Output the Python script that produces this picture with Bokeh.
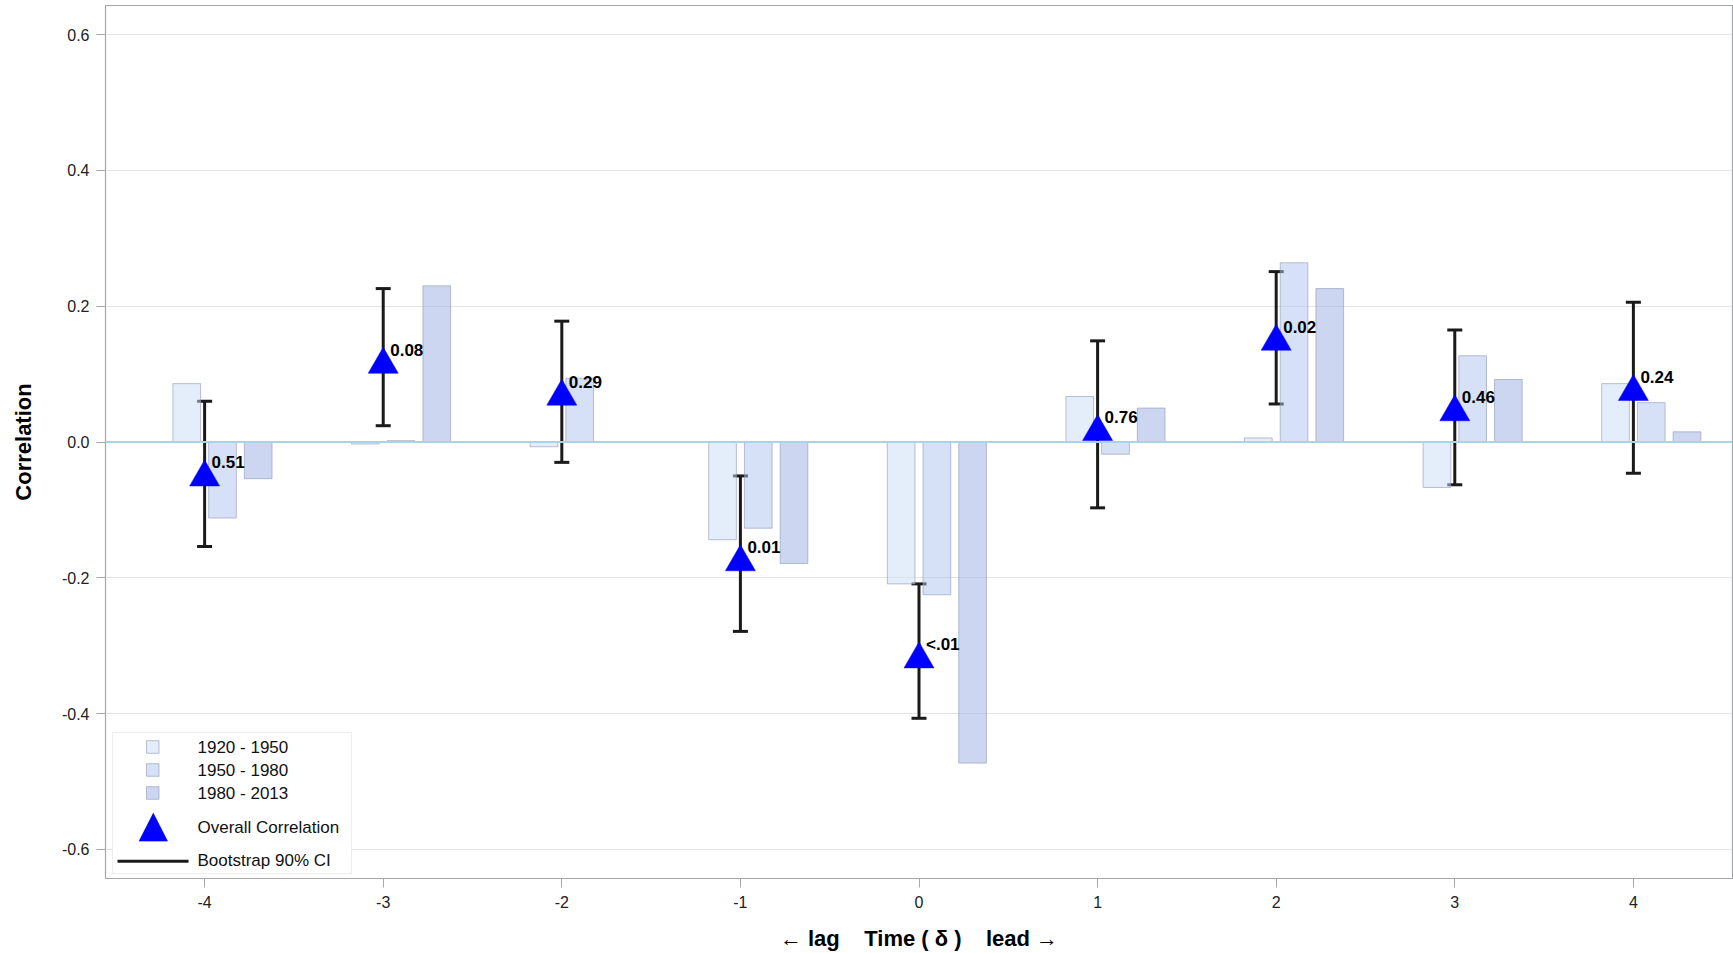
from bokeh.plotting import figure
from bokeh.models import (ColumnDataSource, Whisker, TeeHead, Span, FixedTicker,
                          PrintfTickFormatter, BoxAnnotation, PolyAnnotation, Label, Range1d)
from bokeh.transform import dodge
from bokeh.core.properties import value
from bokeh.embed import file_html
from bokeh.resources import INLINE

# ---- data -------------------------------------------------------------
lags = [-4, -3, -2, -1, 0, 1, 2, 3, 4]
period_labels = ["1920 - 1950", "1950 - 1980", "1980 - 2013"]
corr_1920_1950 = [0.086, -0.003, -0.007, -0.144, -0.209, 0.067, 0.006, -0.067, 0.086]
corr_1950_1980 = [-0.112, 0.002, 0.094, -0.127, -0.225, -0.018, 0.264, 0.127, 0.058]
corr_1980_2013 = [-0.054, 0.230, 0.000, -0.179, -0.473, 0.050, 0.226, 0.092, 0.015]
overall_corr = [-0.052, 0.114, 0.067, -0.177, -0.320, 0.015, 0.148, 0.044, 0.074]
ci_lower = [-0.154, 0.024, -0.030, -0.279, -0.407, -0.097, 0.056, -0.063, -0.046]
ci_upper = [0.060, 0.226, 0.178, -0.050, -0.209, 0.149, 0.251, 0.165, 0.206]
p_labels = ["0.51", "0.08", "0.29", "0.01", "<.01", "0.76", "0.02", "0.46", "0.24"]
y_ticks = [-0.6, -0.4, -0.2, 0.0, 0.2, 0.4, 0.6]
x_ticks = lags

# ---- styling ----------------------------------------------------------
FONT = "Liberation Sans"
BAR_FILLS = ["#C9DBF5", "#ADC1ED", "#99ADE3"]
BAR_OFFSETS = [-0.1, 0.1, 0.3]
BAR_WIDTH = 0.155
BAR_LINE = "#8F9AB5"
FRAME_GRAY = "#A3A7AC"

src = ColumnDataSource(dict(
    lag=lags, p1=corr_1920_1950, p2=corr_1950_1980, p3=corr_1980_2013,
    overall=overall_corr, lower=ci_lower, upper=ci_upper, plabel=p_labels,
))

p = figure(width=1733, height=953, output_backend="svg", toolbar_location=None,
           x_range=Range1d(-4.555, 4.555), y_range=Range1d(-0.643, 0.643),
           min_border_left=105, min_border_right=1, min_border_top=5,
           min_border_bottom=74)

p.background_fill_color = "white"
p.border_fill_color = "white"
p.outline_line_color = FRAME_GRAY
p.outline_line_width = 1.2

# axes
for ax in (p.xaxis[0], p.yaxis[0]):
    ax.axis_line_color = None
    ax.major_tick_line_color = FRAME_GRAY
    ax.major_tick_out = 9
    ax.major_tick_in = 0
    ax.minor_tick_line_color = None
    ax.major_label_text_font = FONT
    ax.major_label_text_font_size = "16px"
    ax.major_label_text_color = "#222222"
    ax.axis_label_text_font = FONT
    ax.axis_label_text_font_style = "bold"
    ax.axis_label_text_font_size = "22px"
    ax.axis_label_text_color = "black"

p.xaxis.ticker = FixedTicker(ticks=x_ticks)
p.xaxis.formatter = PrintfTickFormatter(format="%d")
p.yaxis.ticker = FixedTicker(ticks=y_ticks)
p.yaxis.formatter = PrintfTickFormatter(format="%.1f")
p.xaxis.major_label_standoff = 8
p.yaxis.major_label_standoff = 7
p.yaxis.axis_label = "Correlation"
p.yaxis.axis_label_standoff = 23
p.xaxis.axis_label = "\u2190 lag\u00a0\u00a0\u00a0 Time ( \u03b4 )\u00a0\u00a0\u00a0 lead \u2192"
p.xaxis.axis_label_standoff = 15

p.xgrid.grid_line_color = None
p.ygrid.ticker = FixedTicker(ticks=y_ticks)
p.ygrid.grid_line_color = "#E4E4E4"
p.ygrid.grid_line_width = 1

# grouped bars per period
for col, fill, off in zip(["p1", "p2", "p3"], BAR_FILLS, BAR_OFFSETS):
    p.vbar(x=dodge("lag", off), top=col, bottom=0, width=BAR_WIDTH, source=src,
           fill_color=fill, fill_alpha=0.5, line_color=BAR_LINE, line_alpha=0.6,
           line_width=1)

# zero reference line
p.add_layout(Span(location=0, dimension="width", line_color="#A6D6E6", line_width=2))

# overall correlation markers
p.scatter(x="lag", y="overall", source=src, marker="triangle", size=30,
          fill_color="#0000FF", line_color="#0000FF", line_width=0.5)

# bootstrap confidence intervals
p.add_layout(Whisker(base="lag", lower="lower", upper="upper", source=src,
                     line_color="#1A1A1A", line_width=3,
                     upper_head=TeeHead(size=15, line_width=3, line_color="#1A1A1A"),
                     lower_head=TeeHead(size=15, line_width=3, line_color="#1A1A1A")))

# p-value labels
p.text(x="lag", y="overall", text="plabel", source=src, x_offset=7, y_offset=-15,
       text_font=value(FONT), text_font_style="bold", text_font_size="17px",
       text_color="black", text_align="left", text_baseline="middle")

# ---- legend (canvas pixel units) -------------------------------------
def cbox(left, right, top, bottom, **kw):
    return BoxAnnotation(left=left, right=right, top=top, bottom=bottom,
                         left_units="canvas", right_units="canvas",
                         top_units="canvas", bottom_units="canvas", **kw)

p.add_layout(cbox(112, 351, 732, 873, fill_color="white", fill_alpha=1.0,
                  line_color="#C8C8C8", line_width=1))

row_y = [746.5, 769.5, 792.5]
for lab, fill, cy in zip(period_labels, BAR_FILLS, row_y):
    p.add_layout(cbox(146, 158.5, cy - 6.3, cy + 6.3, fill_color=fill, fill_alpha=0.5,
                      line_color=BAR_LINE, line_alpha=0.6, line_width=1))
    p.add_layout(Label(x=197, y=cy, x_units="canvas", y_units="canvas", text=lab,
                       text_font=FONT, text_font_size="17px", text_color="#111111",
                       text_baseline="middle", text_align="left"))

p.add_layout(PolyAnnotation(xs=[138.3, 167.3, 152.8], ys=[840.7, 840.7, 812.3],
                            xs_units="canvas", ys_units="canvas",
                            fill_color="#0000FF", fill_alpha=1.0, line_color="#0000FF",
                            line_width=0.5))
p.add_layout(Label(x=197, y=827, x_units="canvas", y_units="canvas",
                   text="Overall Correlation", text_font=FONT, text_font_size="17px",
                   text_color="#111111", text_baseline="middle", text_align="left"))

p.add_layout(cbox(117, 188, 859.2, 862.2, fill_color="#1A1A1A", fill_alpha=1.0,
                  line_color=None))
p.add_layout(Label(x=197, y=860, x_units="canvas", y_units="canvas",
                   text="Bootstrap 90% CI", text_font=FONT, text_font_size="17px",
                   text_color="#111111", text_baseline="middle", text_align="left"))

open("out.html", "w").write(file_html(p, INLINE))
